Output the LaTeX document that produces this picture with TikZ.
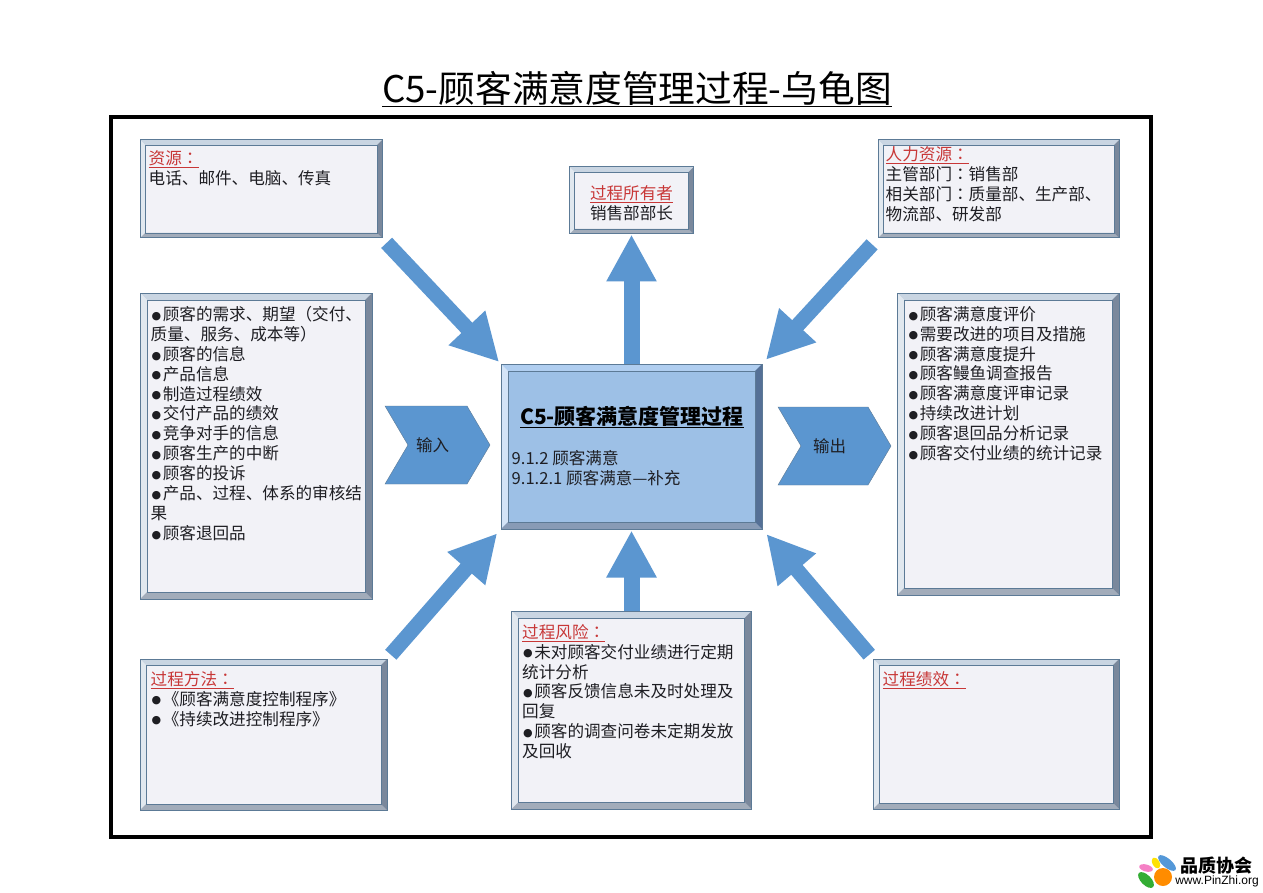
\documentclass[tikz,border=0pt]{standalone}
\usepackage{fontspec}
\usepackage{xcolor}
\setmainfont{Noto Sans CJK SC}
\newfontfamily\tcfont{Noto Sans CJK TC}
\newfontfamily\bulletfont{DejaVu Sans}
\newfontfamily\urlfont{Liberation Sans}
\usetikzlibrary{positioning,arrows.meta,calc,shapes.symbols}
\definecolor{edgeclr}{RGB}{92,122,150}
\definecolor{paneclr}{RGB}{242,242,247}
\definecolor{lightclr}{RGB}{201,213,226}
\definecolor{darkclr}{RGB}{122,136,156}
\definecolor{proclightclr}{RGB}{176,206,240}
\definecolor{procdarkclr}{RGB}{85,112,150}
\definecolor{arrowclr}{RGB}{91,150,208}
\definecolor{procclr}{RGB}{157,192,230}
\definecolor{inkclr}{RGB}{30,30,35}
\definecolor{headclr}{RGB}{200,55,55}
\newcommand{\blt}{\hspace*{1pt}\raisebox{1.2pt}{\bulletfont\fontsize{11}{11}\selectfont ●}\hspace{1.5pt}}
\newcommand{\head}[1]{{\color{headclr}\underline{#1}}}
\newcommand{\cln}{{\tcfont ：}}
\tikzset{
  x=1pt,y=-1pt,
  bevel size/.store in=\bevelsize,
  bevel size=5,
  bevel light/.store in=\bevellight,
  bevel light=lightclr,
  bevel dark/.store in=\beveldark,
  bevel dark=darkclr,
  bevelbox/.style={rectangle,draw=edgeclr,fill=paneclr,line width=1pt,inner sep=0pt,
    path picture={
      \coordinate (nw) at (path picture bounding box.north west);
      \coordinate (ne) at (path picture bounding box.north east);
      \coordinate (sw) at (path picture bounding box.south west);
      \coordinate (se) at (path picture bounding box.south east);
      \fill[\bevellight] (nw)--(ne)--($(ne)+(-\bevelsize,\bevelsize)$)--($(nw)+(\bevelsize,\bevelsize)$)--cycle;
      \fill[\bevellight!55!white] (nw)--(sw)--($(sw)+(\bevelsize,-\bevelsize)$)--($(nw)+(\bevelsize,\bevelsize)$)--cycle;
      \fill[\beveldark!70!white] (sw)--(se)--($(se)+(-\bevelsize,-\bevelsize)$)--($(sw)+(\bevelsize,-\bevelsize)$)--cycle;
      \fill[\beveldark] (ne)--(se)--($(se)+(-\bevelsize,-\bevelsize)$)--($(ne)+(-\bevelsize,\bevelsize)$)--cycle;
      \draw[edgeclr,line width=.6pt] ($(nw)+(\bevelsize,\bevelsize)$) rectangle ($(se)+(-\bevelsize,-\bevelsize)$);
    }},
  txt/.style={inner sep=0pt,align=left,text=inkclr,font=\fontsize{16.6}{19.9}\selectfont},
  bigarrow/.style={draw=arrowclr,line width=15pt,
    -{Triangle[length=47pt,width=47pt,fill=arrowclr]}},
  chevron/.style={signal,signal from=west,signal to=east,signal pointer angle=119,
    draw=edgeclr,fill=arrowclr,minimum height=78pt,inner sep=0pt,
    text=inkclr,font=\fontsize{16.5}{18}\selectfont},
}
\begin{document}
\begin{tikzpicture}
\useasboundingbox (0,0) rectangle (1263,893);
\fill[white] (0,0) rectangle (1263,893);
\node[inner sep=0pt,font=\fontsize{36.7}{40}\selectfont] (title) at (637,89) {\underline{C5-顾客满意度管理过程-乌龟图}};
\node[draw=black,line width=3.5pt,minimum width=1040pt,minimum height=720pt] (frame) at (631,477) {};

\node[bevelbox,minimum width=242pt,minimum height=98pt] (res) at (261,189) {};
\node[bevelbox,minimum width=124pt,minimum height=67pt] (owner) at (631.5,200.5) {};
\node[bevelbox,minimum width=241pt,minimum height=98pt] (hr) at (998.5,189) {};
\node[bevelbox,bevel size=7,minimum width=232pt,minimum height=306pt] (input) at (256,446) {};
\node[bevelbox,bevel size=7,fill=procclr,bevel light=proclightclr,bevel dark=procdarkclr,minimum width=261pt,minimum height=165pt] (proc) at (631.5,446.5) {};
\node[bevelbox,bevel size=7,minimum width=222pt,minimum height=302pt] (output) at (1008,444) {};
\node[bevelbox,bevel size=6,minimum width=247pt,minimum height=151pt] (method) at (263.5,734.5) {};
\node[bevelbox,bevel size=7,minimum width=240pt,minimum height=198pt] (risk) at (631.5,710) {};
\node[bevelbox,bevel size=6,minimum width=246pt,minimum height=150pt] (perf) at (996,734) {};

\node[txt,below right=11pt and 9pt of res.north west] (resText) {\head{资源\cln}\\电话、邮件、电脑、传真};
\node[txt,align=center,yshift=-3pt] (ownerText) at (owner.center) {\head{过程所有者}\\销售部部长};
\node[txt,below right=7pt and 8pt of hr.north west] (hrText) {\head{人力资源\cln}\\主管部门\cln 销售部\\相关部门\cln 质量部、生产部、\\物流部、研发部};
\node[txt,below right=13.5pt and 11pt of input.north west] (inputText) {\blt 顾客的需求、期望{\tcfont （}交付、\\质量、服务、成本等{\tcfont ）}\\\blt 顾客的信息\\\blt 产品信息\\\blt 制造过程绩效\\\blt 交付产品的绩效\\\blt 竞争对手的信息\\\blt 顾客生产的中断\\\blt 顾客的投诉\\\blt 产品、过程、体系的审核结\\果\\\blt 顾客退回品};
\node[txt,below right=13.5pt and 11pt of output.north west] (outputText) {\blt 顾客满意度评价\\\blt 需要改进的项目及措施\\\blt 顾客满意度提升\\\blt 顾客鳗鱼调查报告\\\blt 顾客满意度评审记录\\\blt 持续改进计划\\\blt 顾客退回品分析记录\\\blt 顾客交付业绩的统计记录};
\node[txt,below right=12.5pt and 11pt of method.north west] (methodText) {\head{过程方法\cln}\\\blt《顾客满意度控制程序》\\\blt《持续改进控制程序》};
\node[txt,below right=13.5pt and 11pt of risk.north west] (riskText) {\head{过程风险\cln}\\\blt 未对顾客交付业绩进行定期\\统计分析\\\blt 顾客反馈信息未及时处理及\\回复\\\blt 顾客的调查问卷未定期发放\\及回收};
\node[txt,below right=12.5pt and 10pt of perf.north west] (perfText) {\head{过程绩效\cln}};

\node[inner sep=0pt,text=black,font=\fontsize{21}{24}\bfseries\selectfont] (procTitle) at (632,417) {\underline{C5-顾客满意度管理过程}};
\node[txt,below right=87pt and 11pt of proc.north west] (procText) {9.1.2 顾客满意\\9.1.2.1 顾客满意—补充};

\node[chevron,minimum width=105pt] (inArrow) at (437.5,445) {\hspace*{-10pt}输入};
\node[chevron,minimum width=113pt] (outArrow) at (834.5,446) {\hspace*{-10pt}输出};

\draw[bigarrow,shorten <=6pt,shorten >=2pt] (res.south east) -- (proc.north west);
\draw[bigarrow,line width=16pt] (proc.north) -- (owner.south);
\draw[bigarrow,shorten <=8pt,shorten >=5pt] (hr.south west) -- (proc.north east);
\draw[bigarrow,shorten <=5pt,shorten >=5pt] (method.north east) -- (proc.south west);
\draw[bigarrow,line width=16pt,shorten >=1pt] (risk.north) -- (proc.south);
\draw[bigarrow,shorten <=5pt,shorten >=6pt] (perf.north west) -- (proc.south east);

% logo
\fill[orange!90!yellow] (1163,877) circle (9);
\fill[cyan!60!blue!70] (1167,863) ellipse [x radius=11,y radius=4.5,rotate=-40];
\fill[yellow!85!orange] (1156,863) ellipse [x radius=6,y radius=3.5,rotate=-60];
\fill[magenta!50] (1146,868) ellipse [x radius=7,y radius=3.5,rotate=-15];
\fill[green!60!black!80] (1146,880) ellipse [x radius=10,y radius=5,rotate=-45];
\node[inner sep=0pt,font=\fontsize{18}{20}\bfseries\selectfont] (logoName) at (1216,866) {品质协会};
\node[inner sep=0pt,font=\urlfont\fontsize{12}{14}\selectfont] (logoUrl) at (1217,881) {www.PinZhi.org};
\end{tikzpicture}
\end{document}
